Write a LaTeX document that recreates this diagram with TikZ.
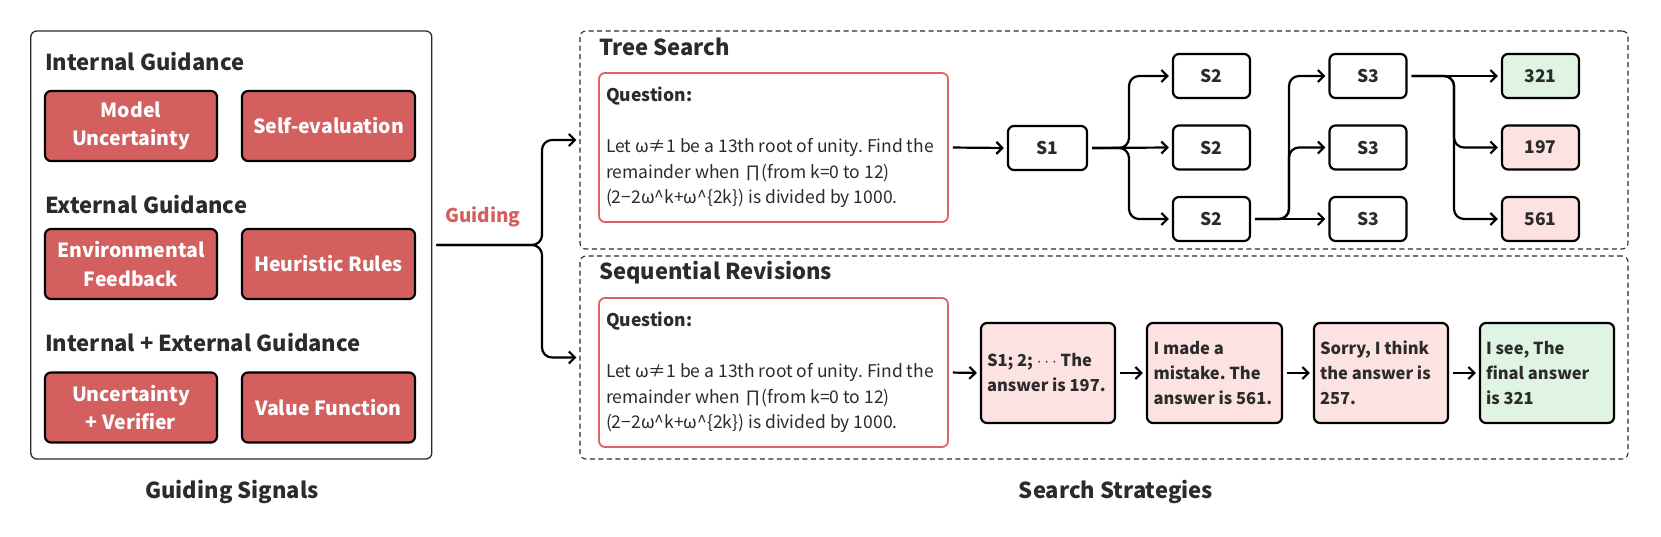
\documentclass[tikz,border=0pt]{standalone}
\usepackage{fontspec}
\setmainfont{Noto Sans CJK SC}
\usepackage{xcolor}
\usetikzlibrary{arrows.meta, positioning}
\definecolor{sigred}{HTML}{D45F5F}
\definecolor{qred}{HTML}{DB6464}
\definecolor{wrongpink}{HTML}{FDE2E2}
\definecolor{rightgreen}{HTML}{DFF4E3}
\definecolor{inkdark}{HTML}{2B2B2B}
\frenchspacing

\begin{document}
\begin{tikzpicture}[
  x=1pt, y=-1pt,
  >={Straight Barb[length=6pt,width=12pt]},
  panel/.style={draw=inkdark, line width=1.3pt, rounded corners=6pt, inner sep=0pt},
  dashpanel/.style={draw=inkdark, line width=1.1pt, dash pattern=on 5pt off 3.5pt,
    rounded corners=6pt, inner sep=0pt},
  heading/.style={font=\fontsize{22}{26}\selectfont\bfseries, text=inkdark,
    inner sep=0pt, anchor=west},
  caption/.style={font=\fontsize{22}{26}\selectfont\bfseries, text=inkdark},
  sigbox/.style={draw=black, line width=2.2pt, rounded corners=6pt, fill=sigred,
    text=white, minimum height=70pt, align=center,
    inner sep=0pt, font=\fontsize{19.5}{28.5}\selectfont\bfseries},
  qbox/.style={draw=qred, line width=1.8pt, rounded corners=6pt, fill=white,
    minimum width=349pt, minimum height=149pt, text width=335pt, align=flush left,
    inner sep=0pt, text=inkdark, font=\fontsize{17.5}{25.5}\selectfont},
  sbox/.style={draw=black, line width=2.2pt, rounded corners=6pt, fill=white,
    minimum width=77pt, minimum height=44pt, inner sep=0pt, text=inkdark,
    font=\fontsize{17.5}{20}\selectfont\bfseries},
  revbox/.style={draw=black, line width=2.2pt, rounded corners=6pt,
    minimum width=134pt, minimum height=100pt, text width=122pt, align=flush left,
    inner sep=0pt, text=inkdark, font=\fontsize{16.5}{25}\selectfont\bfseries},
  link/.style={line width=2.2pt, black, shorten <=4pt, shorten >=3pt}
]
\useasboundingbox (0,0) rectangle (1661,537);

% ---- Guiding signals ----
\node[panel, minimum width=401pt, minimum height=428pt] (sigpanel) at (231.3,245) {};
\node[heading] (ighead) at (45,62) {Internal Guidance};
\node[sigbox, minimum width=172pt] (mu) at (131,126) {Model\\Uncertainty};
\node[sigbox, minimum width=173pt] (se) at (328.5,126) {Self-evaluation};
\node[heading] (eghead) at (45,205) {External Guidance};
\node[sigbox, minimum width=172pt] (ef) at (131,264) {Environmental\\Feedback};
\node[sigbox, minimum width=173pt] (hr) at (328.5,264) {Heuristic Rules};
\node[heading] (iehead) at (45,343) {Internal + External Guidance};
\node[sigbox, minimum width=172pt] (uv) at (131,407.5) {Uncertainty\\+ Verifier};
\node[sigbox, minimum width=173pt] (vf) at (328.5,407.5) {Value Function};
\node[caption] (sigcap) at (232,492) {Guiding Signals};

\node[font=\fontsize{19}{22}\selectfont\bfseries, text=sigred] (guiding) at (483,217) {Guiding};

% ---- Search strategies ----
\node[dashpanel, minimum width=1048pt, minimum height=218pt] (tsbox) at (1104,140) {};
\node[dashpanel, minimum width=1048pt, minimum height=203pt] (srbox) at (1104,357.5) {};
\node[heading] (tshead) at (599,47) {Tree Search};
\node[heading] (srhead) at (599,273) {Sequential Revisions};
\node[caption] (srcap) at (1116,492) {Search Strategies};

\coordinate (fork) at (542,245);
\draw[link, ->, rounded corners=10pt] (sigpanel.east) -- (fork) |- (tsbox.west);
\draw[link, ->, rounded corners=10pt] (sigpanel.east) -- (fork) |- (srbox.west);

% ---- Tree search ----
\node[qbox] (qt) at (773.5,147.5) {\textbf{Question:}\\[25.5pt]%
  Let ω≠1 be a 13th root of unity. Find the\\%
  remainder when ∏(from k=0 to 12)\\%
  (2−2ω\textasciicircum k+ω\textasciicircum\{2k\}) is divided by 1000.};

\node[sbox, minimum width=79pt] (s1) at (1047.5,148) {S1};
\node[sbox] (s2a) at (1211.5,76) {S2};
\node[sbox] (s2b) at (1211.5,147.5) {S2};
\node[sbox] (s2c) at (1211.5,219) {S2};
\node[sbox] (s3a) at (1368,76) {S3};
\node[sbox] (s3b) at (1368,147.5) {S3};
\node[sbox] (s3c) at (1368,219) {S3};
\node[sbox, fill=rightgreen] (r1) at (1540.5,76) {321};
\node[sbox, fill=wrongpink] (r2) at (1540.5,147.5) {197};
\node[sbox, fill=wrongpink] (r3) at (1540.5,219) {561};

\coordinate (f1) at (1129,148);
\coordinate (f2) at (1289,219);
\coordinate (f3) at (1454,76);

\draw[link, ->] (qt.east) -- (s1.west);
\draw[link, ->, rounded corners=10pt] (s1.east) -- (f1) |- (s2a.west);
\draw[link, ->] (s1.east) -- (s2b.west);
\draw[link, ->, rounded corners=10pt] (s1.east) -- (f1) |- (s2c.west);
\draw[link, ->, rounded corners=10pt] (s2c.east) -- (f2) |- (s3a.west);
\draw[link, ->, rounded corners=10pt] (s2c.east) -- (f2) |- (s3b.west);
\draw[link, ->] (s2c.east) -- (s3c.west);
\draw[link, ->] (s3a.east) -- (r1.west);
\draw[link, ->, rounded corners=10pt] (s3a.east) -- (f3) |- (r2.west);
\draw[link, ->, rounded corners=10pt] (s3a.east) -- (f3) |- (r3.west);

% ---- Sequential revisions ----
\node[qbox] (qs) at (773.5,372.5) {\textbf{Question:}\\[25.5pt]%
  Let ω≠1 be a 13th root of unity. Find the\\%
  remainder when ∏(from k=0 to 12)\\%
  (2−2ω\textasciicircum k+ω\textasciicircum\{2k\}) is divided by 1000.};

\node[revbox, fill=wrongpink] (rv1) at (1048,373) {S1; 2; $\cdots$ The\\answer is 197.};
\node[revbox, fill=wrongpink, minimum width=135pt] (rv2) at (1214.5,373) {I made a\\mistake. The\\answer is 561.};
\node[revbox, fill=wrongpink] (rv3) at (1381,373) {Sorry, I think\\the answer is\\257.};
\node[revbox, fill=rightgreen] (rv4) at (1547,373) {I see, The\\final answer\\is 321};

\draw[link, ->] (qs.east) -- (rv1.west);
\draw[link, ->] (rv1.east) -- (rv2.west);
\draw[link, ->] (rv2.east) -- (rv3.west);
\draw[link, ->] (rv3.east) -- (rv4.west);

\end{tikzpicture}
\end{document}
